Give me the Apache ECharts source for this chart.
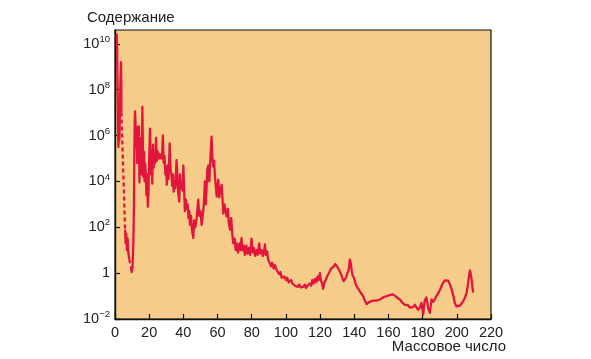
<!DOCTYPE html>
<html>
<head>
<meta charset="utf-8">
<script src="https://cdn.jsdelivr.net/npm/echarts@6/dist/echarts.min.js"></script>
<style>
html,body{margin:0;padding:0;background:#fff;}
#chart{width:591px;height:359px;}
</style>
</head>
<body>
<div id="chart"></div>
<script>
// Axis settings / tick labels
const xTicks = [0, 20, 40, 60, 80, 100, 120, 140, 160, 180, 200, 220];
const yExponents = [-2, 0, 2, 4, 6, 8, 10];
const yTitle = 'Содержание';
const xTitle = 'Массовое число';

// Curve data: [mass number, log10(abundance)]
// H – He (solid)
const curveHHe = [[1,10.45],[1.2,9.9],[1.4,8.8],[1.6,7.5],[1.8,6.2],[2.0,5.5],[2.3,6.0],[2.6,5.8],[2.9,7.2],[3.2,8.5],[3.5,9.2],[3.7,8.2],[3.75,7.0]];
// gap He -> Li (dashed)
const gapHeLi = [[3.75,7.0],[5.9,1.9]];
// Li (solid)
const curveLi = [[5.9,1.9],[6.2,1.3],[6.6,1.7],[7.0,1.0],[7.4,1.5],[7.8,0.9],[8.3,0.6]];
// gap Li -> Be (dashed)
const gapLiBe = [[8.3,0.6],[9.3,0.3]];
// Be onwards (solid)
const curveMain = [
[9.3,0.3],[9.75,0.05],[10.3,0.3],[10.8,1.5],[11.1,3.0],[11.3,5.0],[11.5,6.5],[11.7,7.05],
[12,6.6],[12.3,5.5],[12.6,6.4],[13,4.8],[13.3,6.2],[13.6,5.3],[14,6.4],[14.3,3.95],[14.6,5.8],[15,4.5],[15.3,5.9],[15.6,4.3],
[16,7.25],[16.3,5.6],[16.6,4.2],[17,5.3],[17.3,4.0],[17.6,4.8],[18,4.4],[18.4,3.4],[18.8,4.3],[19.2,2.9],[19.6,3.5],
[20,5.0],[20.5,6.3],[21,4.3],[21.4,5.3],[21.8,3.9],[22.2,5.6],[22.6,4.6],[23,5.2],[23.5,4.8],[24,5.9],[24.5,4.9],
[25,5.3],[25.5,5.0],[26,5.2],[26.5,5.0],[27,5.15],[27.5,5.0],[28,6.0],[28.5,4.8],[29,5.1],[29.5,4.3],[30,4.6],[30.3,3.85],
[30.8,4.7],[31.3,4.1],[32,5.66],[32.5,4.5],[33,4.3],[33.5,3.8],[34,4.3],[34.3,3.55],[34.8,4.0],[35.3,3.7],[36,4.93],
[36.5,4.2],[37,3.5],[37.6,3.12],[38,4.3],[38.5,3.7],[39,3.9],[39.5,3.6],[40,4.7],[40.5,3.5],[40.9,2.7],[41.5,3.2],
[42,2.8],[42.5,3.0],[43,2.4],[43.5,2.7],[43.9,2.1],[44.5,2.5],[45,1.9],[45.8,1.53],[46.3,2.3],[47,2.0],[47.8,2.4],
[48.7,3.2],[49.3,2.5],[50,2.7],[50.7,2.1],[51.3,2.5],[52,3.0],[52.6,4.0],[53.2,3.0],[54,4.5],[54.6,4.7],[55.2,4.0],
[55.8,5.0],[56.5,5.95],[57,5.0],[57.5,4.65],[58,4.9],[58.5,4.2],[59.5,3.34],[60.4,4.07],[61,3.3],[61.5,3.6],[62.4,3.85],
[63.4,2.6],[64,3.0],[65.3,2.47],[66,2.8],[66.6,2.2],[67.3,1.9],[68,2.4],[68.6,1.7],[69.2,1.31],[70,1.5],[70.6,1.0],
[71.2,1.3],[72,0.9],[72.8,1.3],[73.5,1.0],[74,1.53],[74.6,1.0],[75.3,1.2],[76,0.8],[76.8,1.2],[77.5,0.85],[78.3,1.1],
[79,0.8],[79.9,1.5],[80.5,0.9],[81.2,1.1],[82,0.75],[82.8,1.0],[83.5,0.8],[84.4,1.3],[85,0.85],[85.8,1.0],[86.5,0.75],
[87.2,0.95],[87.7,1.25],[88.3,0.8],[89,0.95],[89.6,0.6],[90.6,0.55],[91.3,0.3],[92,0.45],[92.8,0.2],[93.6,0.35],
[94.5,0.15],[95.3,0.2],[96,-0.05],[96.8,0.05],[97.5,-0.2],[98.4,-0.28],[99.2,-0.15],[100,-0.3],[100.8,-0.2],[101.6,-0.4],
[102.3,-0.36],[103,-0.3],[103.8,-0.45],[104.5,-0.38],[105.3,-0.55],[106.3,-0.5],[107,-0.6],[107.8,-0.5],[108.6,-0.62],
[109.4,-0.55],[110.2,-0.6],[111,-0.5],[111.8,-0.65],[112.6,-0.55],[113.3,-0.6],[114,-0.45],[114.8,-0.55],[115.5,-0.3],
[116.2,-0.45],[117,-0.25],[117.8,-0.4],[118.5,-0.15],[119.2,-0.3],[119.9,0.0],[120.6,-0.35],[121.2,-0.45],[121.8,-0.68],
[122.5,-0.4],[123.3,-0.3],[124,-0.15],[124.8,-0.05],[125.7,0.08],[126.5,0.2],[127.3,0.28],[128.1,0.3],[128.8,0.4],
[129.6,0.37],[130.3,0.25],[131,0.15],[131.5,0.1],[132.3,-0.05],[133,-0.2],[133.8,-0.35],[134.5,-0.4],[135.2,-0.2],
[136,0.0],[136.6,0.1],[137.4,0.59],[137.8,0.5],[138.3,0.2],[139,-0.1],[139.8,-0.2],[140.5,-0.4],[141.3,-0.57],[142,-0.65],
[142.7,-0.72],[143.3,-0.79],[144.2,-0.9],[145.2,-1.0],[146.2,-1.2],[147.2,-1.35],[148.1,-1.3],[149,-1.25],[150,-1.3],
[151,-1.2],[152,-1.25],[153,-1.2],[154,-1.15],[155,-1.15],[156,-1.1],[157,-1.05],[158,-1.05],[158.9,-1.0],[160,-0.98],
[161,-0.95],[162,-0.95],[162.8,-0.93],[163.8,-1.0],[164.8,-1.05],[165.7,-1.12],[166.7,-1.15],[167.7,-1.25],[168.6,-1.3],
[169.6,-1.38],[170.6,-1.45],[171.5,-1.4],[172.5,-1.5],[173.5,-1.42],[174.5,-1.48],[175.4,-1.38],[176.4,-1.4],[177.4,-1.6],
[178.4,-1.5],[179.3,-1.3],[180.3,-1.8],[181.2,-1.2],[182.2,-1.06],[183.2,-1.5],[184.2,-1.73],[185.2,-1.15],[186.2,-1.25],
[187.1,-1.15],[188,-1.0],[189,-0.9],[190,-0.75],[191,-0.57],[192,-0.42],[193,-0.32],[194,-0.28],[195,-0.33],[196,-0.5],
[197,-0.72],[198,-1.0],[198.8,-1.3],[199.8,-1.45],[200.8,-1.5],[201.8,-1.42],[202.7,-1.35],[203.7,-1.23],[204.7,-1.08],
[205.7,-0.86],[206.6,-0.45],[207.2,-0.1],[207.7,0.12],[208.2,-0.05],[208.7,-0.3],[209.1,-0.6],[209.6,-0.85]
];

const lineColor = '#E2163D';
const font = '"Liberation Sans", Arial, Helvetica, sans-serif';

function solid(data){
  return {type:'line', data:data, symbol:'none', showSymbol:false, silent:true,
    lineStyle:{color:lineColor, width:2.3, join:'round'}, animation:false};
}
function dashed(data){
  return {type:'line', data:data, symbol:'none', showSymbol:false, silent:true,
    lineStyle:{color:lineColor, width:2.3, type:[4,3]}, animation:false};
}

const chart = echarts.init(document.getElementById('chart'), null, {renderer:'canvas'});
chart.setOption({
  backgroundColor:'#ffffff',
  animation:false,
  textStyle:{fontFamily:font},
  grid:{left:115, right:100, top:30, bottom:40, show:true, backgroundColor:'#F6CC8A', borderColor:'#111', borderWidth:1.2},
  xAxis:{
    type:'value', min:xTicks[0], max:xTicks[xTicks.length-1], interval:20,
    axisLine:{show:true, onZero:false, lineStyle:{color:'#111', width:1.4}},
    axisTick:{show:true, inside:true, length:5, lineStyle:{color:'#111', width:1.2}},
    axisLabel:{margin:6, fontSize:14.5, color:'#222', fontFamily:font},
    splitLine:{show:false}
  },
  yAxis:{
    type:'value', min:yExponents[0], max:10.6, interval:2,
    axisLine:{show:true, onZero:false, lineStyle:{color:'#111', width:1.4}},
    axisTick:{show:true, inside:true, length:5, lineStyle:{color:'#111', width:1.2}},
    axisLabel:{
      margin:5, color:'#222', fontFamily:font, showMaxLabel:false,
      formatter:function(v){
        if (yExponents.indexOf(v) < 0) return '';
        if (v === 0) return '{b|1}';
        return '{b|10}{s|' + (v < 0 ? '−' + (-v) : v) + '}';
      },
      rich:{
        b:{fontSize:14.5, color:'#222', fontFamily:font},
        s:{fontSize:9.5, color:'#222', fontFamily:font, padding:[0,0,9,0]}
      }
    },
    splitLine:{show:false}
  },
  graphic:[
    {type:'text', left:87, top:10, style:{text:yTitle, font:'15px ' + font, fill:'#222'}},
    {type:'text', right:85, top:339, style:{text:xTitle, font:'15px ' + font, fill:'#222'}}
  ],
  series:[solid(curveHHe), dashed(gapHeLi), solid(curveLi), dashed(gapLiBe), solid(curveMain)]
});
</script>
</body>
</html>
